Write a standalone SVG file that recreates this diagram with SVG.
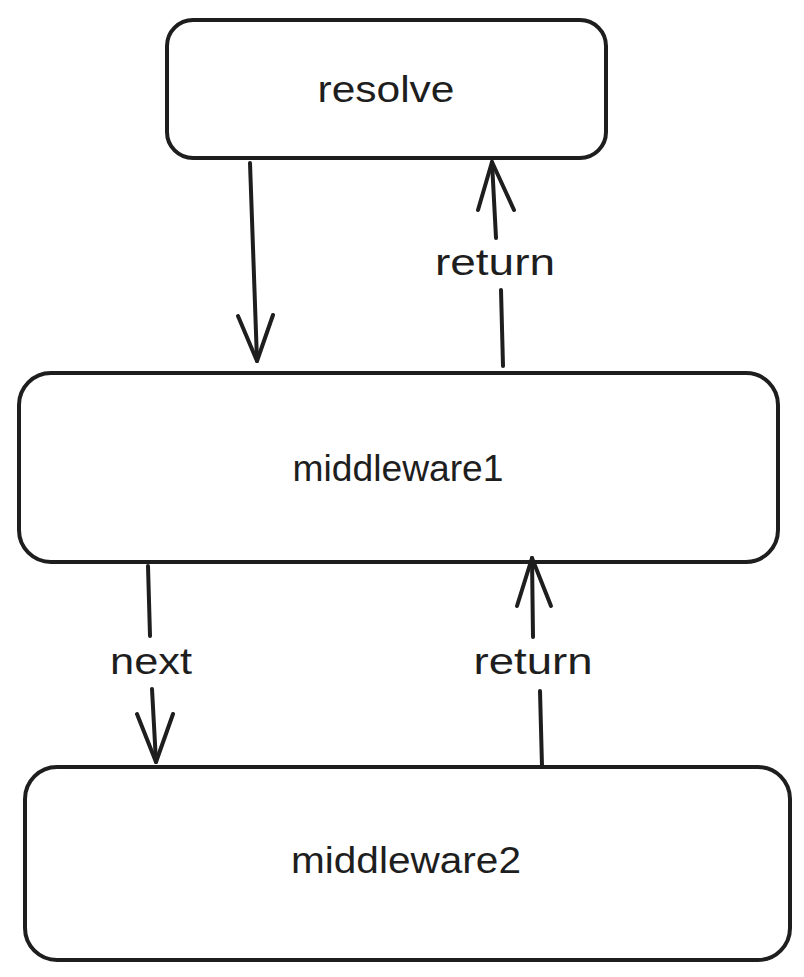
<svg xmlns="http://www.w3.org/2000/svg" width="804" height="977" viewBox="0 0 804 977">
<style>
.box{fill:#ffffff;stroke:#1e1e1e;stroke-width:4;stroke-linejoin:round}
.ln{fill:none;stroke:#1e1e1e;stroke-width:4;stroke-linecap:round;stroke-linejoin:round}
.t{font-family:"Liberation Sans",Arial,sans-serif;font-size:36px;fill:#1e1e1e;text-anchor:middle}
</style>
<rect width="804" height="977" fill="#ffffff"/>
<g id="resolve">
<rect class="box" x="167" y="20" width="439" height="138" rx="26"/>
<text class="t" x="386" y="102" textLength="137" lengthAdjust="spacingAndGlyphs">resolve</text>
</g>
<g id="middleware1">
<rect class="box" x="19" y="373" width="759" height="189" rx="32"/>
<text class="t" x="398" y="481" textLength="211" lengthAdjust="spacingAndGlyphs">middleware1</text>
</g>
<g id="middleware2">
<rect class="box" x="25" y="767" width="765" height="193" rx="32"/>
<text class="t" x="406" y="873" textLength="230" lengthAdjust="spacingAndGlyphs">middleware2</text>
</g>
<g id="connectors">
<g id="edge-resolve-mw1">
<path class="ln" d="M250 163 L257 361"/>
<path class="ln" d="M238 316 L257 361 L273 315"/>
</g>
<g id="edge-mw1-resolve">
<path class="ln" d="M503 366 L501 290"/>
<path class="ln" d="M496 238 L492 162"/>
<path class="ln" d="M478 210 L492 162 L514 210"/>
<text class="t" x="495" y="275" textLength="120" lengthAdjust="spacingAndGlyphs">return</text>
</g>
<g id="edge-mw1-mw2">
<path class="ln" d="M148 566 L150 636"/>
<path class="ln" d="M152 689 L156 762"/>
<path class="ln" d="M137 714 L156 762 L173 714"/>
<text class="t" x="151" y="674" textLength="82" lengthAdjust="spacingAndGlyphs">next</text>
</g>
<g id="edge-mw2-mw1">
<path class="ln" d="M542 766 L540 691"/>
<path class="ln" d="M533 637 L532 558"/>
<path class="ln" d="M517 606 L532 558 L551 606"/>
<text class="t" x="533" y="674" textLength="119" lengthAdjust="spacingAndGlyphs">return</text>
</g>
</g>
</svg>
